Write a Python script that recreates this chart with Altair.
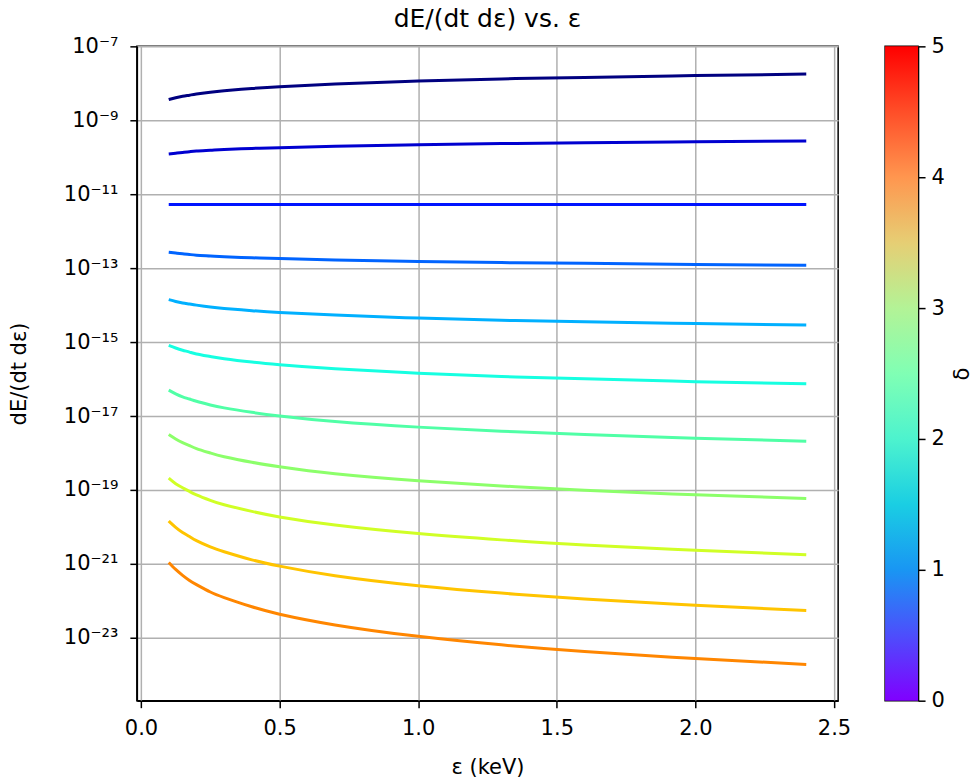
import math
import altair as alt
import pandas as pd

# ---- data (y given as log10 of dE/(dt dε)) ----
energy_kev = [0.1, 0.125, 0.15, 0.175, 0.2, 0.25, 0.3, 0.4, 0.5, 0.7, 1.0, 1.3, 1.6, 2.0, 2.4]

series_names = ["c01", "c02", "c03", "c04", "c05", "c06",
                "c07", "c08", "c09", "c10", "c11"]

log_c01 = [-8.44, -8.39, -8.35, -8.32, -8.29, -8.24, -8.20, -8.14, -8.09, -8.02, -7.94, -7.88, -7.84, -7.79, -7.75]
log_c02 = [-9.91, -9.89, -9.87, -9.85, -9.83, -9.81, -9.79, -9.76, -9.74, -9.70, -9.66, -9.63, -9.61, -9.58, -9.56]
log_c03 = [-11.28, -11.28, -11.28, -11.28, -11.28, -11.28, -11.28, -11.28, -11.28, -11.28, -11.28, -11.28, -11.28, -11.28, -11.28]
log_c04 = [-12.57, -12.59, -12.61, -12.63, -12.65, -12.67, -12.69, -12.72, -12.74, -12.78, -12.82, -12.85, -12.87, -12.90, -12.92]
log_c05 = [-13.85, -13.90, -13.94, -13.97, -14.00, -14.05, -14.09, -14.15, -14.20, -14.27, -14.35, -14.41, -14.45, -14.50, -14.54]
log_c06 = [-15.09, -15.16, -15.22, -15.27, -15.32, -15.39, -15.45, -15.54, -15.61, -15.72, -15.84, -15.93, -15.99, -16.07, -16.13]
log_c07 = [-16.30, -16.40, -16.48, -16.54, -16.60, -16.70, -16.78, -16.90, -17.00, -17.15, -17.30, -17.41, -17.50, -17.60, -17.68]
log_c08 = [-17.50, -17.62, -17.72, -17.80, -17.88, -18.00, -18.10, -18.25, -18.37, -18.56, -18.75, -18.89, -19.01, -19.13, -19.23]
log_c09 = [-18.68, -18.83, -18.94, -19.04, -19.13, -19.28, -19.40, -19.58, -19.73, -19.95, -20.18, -20.35, -20.49, -20.63, -20.75]
log_c10 = [-19.84, -20.01, -20.15, -20.26, -20.37, -20.54, -20.67, -20.89, -21.06, -21.32, -21.59, -21.79, -21.95, -22.12, -22.26]
log_c11 = [-20.96, -21.15, -21.31, -21.45, -21.56, -21.76, -21.91, -22.16, -22.36, -22.65, -22.96, -23.19, -23.37, -23.56, -23.72]

all_logs = [log_c01, log_c02, log_c03, log_c04, log_c05, log_c06,
            log_c07, log_c08, log_c09, log_c10, log_c11]

line_colors = ["#000080", "#0000d0", "#0014ff", "#0064ff", "#00b0ff", "#16ffe1",
               "#50ffa6", "#8cff6a", "#d0ff26", "#ffc400", "#ff8600"]

x_ticks = [0.0, 0.5, 1.0, 1.5, 2.0, 2.5]
y_ticks = [1e-7, 1e-9, 1e-11, 1e-13, 1e-15, 1e-17, 1e-19, 1e-21, 1e-23]
y_tick_labels = ["10⁻⁷", "10⁻⁹", "10⁻¹¹", "10⁻¹³", "10⁻¹⁵", "10⁻¹⁷", "10⁻¹⁹", "10⁻²¹", "10⁻²³"]

cbar_ticks = [0, 1, 2, 3, 4, 5]
cbar_colors = ["#8000ff", "#4d4efc", "#1996f3", "#1acee3", "#4df3ce", "#80ffb4",
               "#b3f396", "#e6ce74", "#ff964f", "#ff4e28", "#ff0000"]

# ---- build table ----
rows = []
for name, logs in zip(series_names, all_logs):
    for e, lv in zip(energy_kev, logs):
        rows.append({"series": name, "energy": e, "rate": 10.0 ** lv})
df = pd.DataFrame(rows)

# label expression for log ticks
expr = "''"
for v, lab in zip(reversed(y_ticks), reversed(y_tick_labels)):
    k = round(math.log10(v))
    expr = f"(abs(log(datum.value)/LN10 - ({k})) < 0.3 ? '{lab}' : {expr})"

FONT = "DejaVu Sans"

main = alt.Chart(df).mark_line(strokeWidth=3, interpolate="natural", clip=True).encode(
    x=alt.X("energy:Q",
            scale=alt.Scale(domain=[-0.015, 2.515], nice=False, zero=False),
            axis=alt.Axis(values=x_ticks, format=".1f", title="ε (keV)",
                          labelPadding=10, titlePadding=18)),
    y=alt.Y("rate:Q",
            scale=alt.Scale(type="log", domain=[10 ** -24.7, 1e-7], nice=False),
            axis=alt.Axis(values=y_ticks, labelExpr=expr, title="dE/(dt dε)",
                          labelPadding=12, titlePadding=34)),
    color=alt.Color("series:N", scale=alt.Scale(domain=series_names, range=line_colors),
                    legend=None),
).properties(
    width=702, height=655,
    title=alt.TitleParams("dE/(dt dε) vs. ε", fontSize=25, font=FONT,
                          fontWeight="normal", color="black", offset=3),
)

cbar_df = pd.DataFrame({"lo": [0.0], "hi": [5.0]})
n = len(cbar_colors)
grad = alt.Gradient(
    gradient="linear",
    stops=[alt.GradientStop(offset=i / (n - 1), color=c) for i, c in enumerate(cbar_colors)],
    x1=0, x2=0, y1=1, y2=0,
)
cbar = alt.Chart(cbar_df).mark_rect(fill=grad).encode(
    y=alt.Y("lo:Q", scale=alt.Scale(domain=[0, 5], nice=False, zero=False),
            axis=alt.Axis(orient="right", values=cbar_ticks, format="d", title="δ",
                          titleAngle=270, grid=False, labelPadding=6, titlePadding=28)),
    y2="hi:Q",
).properties(width=33, height=655)

chart = alt.hconcat(main, cbar, spacing=47, bounds="flush").properties(
    padding={"left": 7, "top": 6, "right": 2, "bottom": 4}
).configure_view(
    stroke="black", strokeWidth=1.5
).configure_axis(
    labelFont=FONT, titleFont=FONT, labelFontSize=21, titleFontSize=21,
    titleFontWeight="normal", labelColor="black", titleColor="black",
    tickColor="black", domainColor="black", tickSize=7, tickWidth=1.5,
    domainWidth=1.5, gridColor="#b0b0b0", gridWidth=1.5,
)

chart.save("out.html", embed_options={"renderer": "svg", "actions": False})
